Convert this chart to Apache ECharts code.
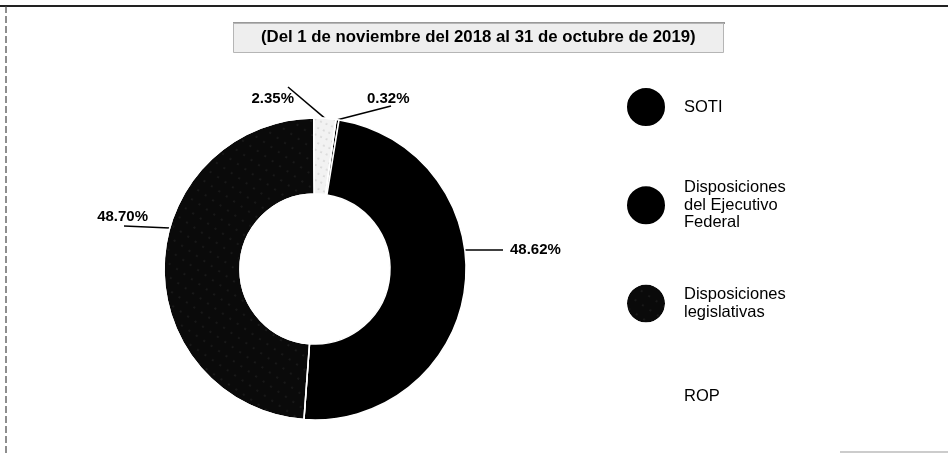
<!DOCTYPE html>
<html>
<head>
<meta charset="utf-8">
<script src="https://cdn.jsdelivr.net/npm/echarts@6/dist/echarts.min.js"></script>
<style>
  html, body { margin: 0; padding: 0; background: #fff; }
  #chart { width: 948px; height: 454px; }
</style>
</head>
<body>
<div id="chart"></div>
<script>
const titleText = '(Del 1 de noviembre del 2018 al 31 de octubre de 2019)';

// legend order
const categories = ['SOTI', 'Disposiciones\ndel Ejecutivo\nFederal', 'Disposiciones\nlegislativas', 'ROP'];
const shares = [48.62, 0.32, 48.70, 2.35];
// order of the slices clockwise round the ring, from just right of 12 o'clock
const ringOrder = [1, 0, 2, 3];

const sliceColors = ['#000', '#000', '#0a0a0a', '#f2f2f2'];
const CENTER = [315, 269];
const R_IN = 75, R_OUT = 151;

// where each label sits (angle of the leader on the ring, clockwise from top)
const labelSpots = [
  { angle: 82.8, end: [503, 250], at: [510, 250], align: 'left' },
  { angle: 8.6, end: [391, 106], at: [367, 99], align: 'left' },
  { angle: 285.8, end: [124, 226], at: [148, 217], align: 'right' },
  { angle: 3.8, end: [288, 87], at: [294, 99], align: 'right' }
];

const dotsDark = { symbol: 'circle', symbolSize: 0.5, color: 'rgba(255,255,255,0.3)', dashArrayX: [2, 7], dashArrayY: [2, 9], rotation: 0.6 };
const dotsLight = { symbol: 'circle', symbolSize: 0.6, color: 'rgba(90,90,90,0.6)', dashArrayX: [2, 4], dashArrayY: [2, 5], rotation: 0.4 };
const decals = [null, null, dotsDark, dotsLight];

const ringData = ringOrder.map(i => {
  const style = { color: sliceColors[i] };
  if (decals[i]) style.decal = decals[i];
  return { name: categories[i], value: shares[i], itemStyle: style };
});

// the ROP swatch is white on white in the original
const legendData = categories.map((c, i) => i === 3
  ? { name: c, itemStyle: { color: '#fff', opacity: 0 } }
  : { name: c });

const chart = echarts.init(document.getElementById('chart'), null, { renderer: 'canvas' });

const option = {
  backgroundColor: '#fff',
  animation: false,
  title: {
    text: titleText,
    left: 233,
    top: 23,
    padding: [6, 28, 7, 28],
    backgroundColor: '#eeeeee',
    borderColor: '#b5b5b5',
    borderWidth: 1,
    textStyle: { fontFamily: 'Liberation Sans', fontSize: 16.8, fontWeight: 'bold', color: '#000' }
  },
  legend: {
    orient: 'vertical',
    left: 620,
    top: 81,
    icon: 'circle',
    itemWidth: 66,
    itemHeight: 40,
    itemGap: 51,
    selectedMode: false,
    data: legendData,
    textStyle: { fontFamily: 'Liberation Sans', fontSize: 16.5, lineHeight: 17.5, color: '#000' }
  },
  graphic: [
    { type: 'line', shape: { x1: 0, y1: 6, x2: 948, y2: 6 }, style: { stroke: '#222', lineWidth: 2 } },
    { type: 'line', shape: { x1: 6, y1: 6, x2: 6, y2: 454 }, style: { stroke: '#444', lineWidth: 1.2, lineDash: [7, 3] } },
    { type: 'line', shape: { x1: 233, y1: 23, x2: 725, y2: 23 }, style: { stroke: '#333', lineWidth: 1 } },
    { type: 'line', shape: { x1: 840, y1: 452, x2: 948, y2: 452 }, style: { stroke: '#ccc', lineWidth: 2 } }
  ],
  series: [{
    type: 'pie',
    center: CENTER,
    radius: [R_IN, R_OUT],
    startAngle: 82,
    clockwise: true,
    avoidLabelOverlap: false,
    emphasis: { disabled: true },
    itemStyle: { borderColor: '#fff', borderWidth: 1.5 },
    label: {
      show: true,
      position: 'outside',
      formatter: p => p.value.toFixed(2) + '%',
      fontFamily: 'Liberation Sans',
      fontSize: 15,
      fontWeight: 'bold',
      color: '#000'
    },
    labelLine: { show: true, length: 15, length2: 20, lineStyle: { color: '#000', width: 1.5 } },
    labelLayout: function (params) {
      const spot = labelSpots[ringOrder[params.dataIndex]];
      const a = spot.angle * Math.PI / 180;
      const anchor = [CENTER[0] + R_OUT * Math.sin(a), CENTER[1] - R_OUT * Math.cos(a)];
      return {
        x: spot.at[0],
        y: spot.at[1],
        align: spot.align,
        verticalAlign: 'middle',
        labelLinePoints: [anchor, spot.end, spot.end]
      };
    },
    data: ringData
  }]
};

chart.setOption(option);
</script>
</body>
</html>
